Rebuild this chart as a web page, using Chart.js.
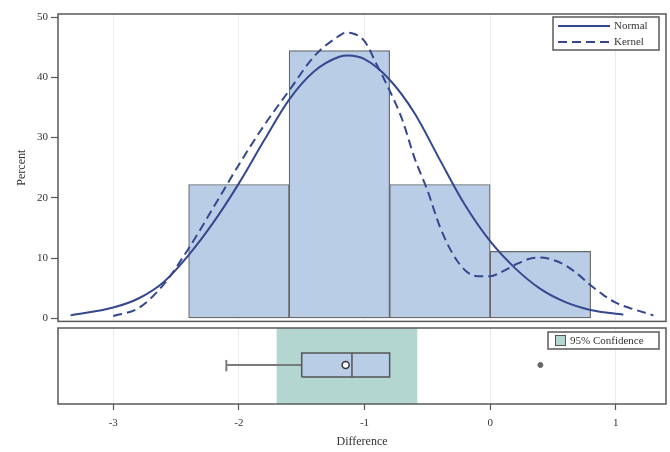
<!DOCTYPE html>
<html>
<head>
<meta charset="utf-8">
<script src="https://cdn.jsdelivr.net/npm/chart.js@4.4.0/dist/chart.umd.min.js"></script>
<style>
body { margin: 0; background: #fff; }
#wrap { position: relative; width: 670px; height: 452px; }
canvas { position: absolute; left: 0; }
</style>
</head>
<body>
<div id="wrap">
  <canvas id="box" width="670" height="127" style="top:325px"></canvas>
  <canvas id="hist" width="670" height="331" style="top:0"></canvas>
</div>
<script>
// histogram bins (centres) and percent per bin
var binCenters = [-2.0, -1.2, -0.4, 0.4];
var binPercent = [22.22, 44.44, 22.22, 11.11];

// fitted normal curve
var normalX = [-3.34, -3.0, -2.8, -2.6, -2.4, -2.2, -2.0, -1.8, -1.6, -1.4, -1.2, -1.13, -1.0, -0.8, -0.6, -0.4, -0.2, 0.0, 0.2, 0.4, 0.6, 0.8, 1.06];
var normalY = [0.5, 1.8, 3.3, 6.0, 10.5, 16.0, 22.4, 29.5, 36.3, 41.0, 43.4, 43.6, 43.0, 39.6, 34.0, 26.3, 18.8, 12.8, 8.3, 4.9, 2.7, 1.4, 0.6];

// kernel density curve
var kernelX = [-3.0, -2.8, -2.6, -2.4, -2.2, -2.0, -1.8, -1.6, -1.4, -1.2, -1.15, -1.1, -1.0, -0.9, -0.8, -0.7, -0.6, -0.5, -0.4, -0.3, -0.2, -0.1, 0.0, 0.1, 0.2, 0.3, 0.4, 0.5, 0.6, 0.7, 0.8, 0.9, 1.0, 1.1, 1.3];
var kernelY = [0.4, 1.7, 5.6, 11.6, 18.5, 25.5, 32.0, 37.8, 43.5, 46.9, 47.4, 47.3, 46.0, 42.0, 37.8, 33.0, 26.5, 21.3, 15.2, 10.8, 8.0, 7.0, 7.0, 7.8, 8.9, 9.8, 10.1, 9.7, 8.8, 7.3, 5.5, 3.9, 2.6, 1.8, 0.5];

var xTicks = [-3, -2, -1, 0, 1];
var yTicks = [0, 10, 20, 30, 40, 50];

// box plot: lower whisker, Q1, median, Q3
var boxValues = [-2.1, -1.5, -1.1, -0.8];
var meanValue = [-1.15];
var outliers = [0.4];
var confLimits = [-1.7, -0.58];

var curveColor = '#35488f';
var barFill = '#b9cde6';
var bandFill = '#b4d6d1';
var textColor = '#333';
var serif = "'Liberation Serif', 'Times New Roman', serif";

Chart.defaults.font.family = serif;
Chart.defaults.color = textColor;

function pts(xs, ys) {
    return xs.map(function(x, i) { return { x: x, y: ys[i] }; });
}
function fixTicks(list) {
    return function(scale) { scale.ticks = list.map(function(v) { return { value: v }; }); };
}

var framePlugin = {
    id: 'frame',
    afterDraw: function(chart) {
        var a = chart.chartArea, ctx = chart.ctx;
        ctx.save();
        ctx.strokeStyle = '#5a5a5a';
        ctx.lineWidth = 1.5;
        ctx.strokeRect(a.left, a.top, a.right - a.left, a.bottom - a.top);
        ctx.restore();
    }
};

var curveLegend = {
    id: 'curveLegend',
    afterDraw: function(chart) {
        var ctx = chart.ctx;
        ctx.save();
        ctx.fillStyle = '#fff';
        ctx.fillRect(553, 17, 106, 33);
        ctx.strokeStyle = '#5a5a5a';
        ctx.lineWidth = 1.5;
        ctx.strokeRect(553, 17, 106, 33);
        ctx.font = '11px ' + serif;
        ctx.textBaseline = 'middle';
        var row = 0;
        chart.data.datasets.forEach(function(ds) {
            if (ds.type !== 'line') return;
            var y = 26 + row * 16;
            ctx.strokeStyle = ds.borderColor;
            ctx.lineWidth = 2;
            ctx.setLineDash(ds.borderDash || []);
            ctx.beginPath();
            ctx.moveTo(558, y);
            ctx.lineTo(610, y);
            ctx.stroke();
            ctx.setLineDash([]);
            ctx.fillStyle = textColor;
            ctx.fillText(ds.label, 614, y);
            row++;
        });
        ctx.restore();
    }
};

new Chart(document.getElementById('hist'), {
    type: 'bar',
    data: {
        datasets: [{
            type: 'line',
            label: 'Normal',
            data: pts(normalX, normalY),
            borderColor: curveColor,
            borderWidth: 2,
            pointRadius: 0,
            cubicInterpolationMode: 'monotone',
            order: 1
        }, {
            type: 'line',
            label: 'Kernel',
            data: pts(kernelX, kernelY),
            borderColor: curveColor,
            borderWidth: 2,
            borderDash: [9, 5],
            pointRadius: 0,
            cubicInterpolationMode: 'monotone',
            order: 1
        }, {
            type: 'bar',
            label: 'Percent',
            data: pts(binCenters, binPercent),
            backgroundColor: barFill,
            borderColor: '#666',
            borderWidth: 1.2,
            borderSkipped: false,
            barPercentage: 1,
            categoryPercentage: 1,
            order: 2
        }]
    },
    options: {
        responsive: false,
        animation: false,
        layout: { autoPadding: false, padding: { top: 14, right: 4, left: 0, bottom: 0 } },
        plugins: { legend: { display: false }, tooltip: { enabled: false } },
        scales: {
            x: {
                type: 'linear',
                min: -3.44,
                max: 1.40,
                offset: false,
                afterBuildTicks: fixTicks(xTicks),
                ticks: { display: false },
                grid: { color: '#ebebeb', drawTicks: false, offset: false },
                border: { display: false },
                afterFit: function(s) { s.height = 4; }
            },
            y: {
                min: -0.5,
                max: 50.5,
                afterBuildTicks: fixTicks(yTicks),
                ticks: { font: { size: 11 }, color: textColor, padding: 3 },
                grid: { drawOnChartArea: false, tickLength: 7, tickColor: '#555', tickWidth: 1.2 },
                border: { display: false },
                title: { display: true, text: 'Percent', font: { size: 12 }, color: textColor, padding: { top: 15, bottom: 0 } },
                afterFit: function(s) { s.width = 58; }
            }
        }
    },
    plugins: [framePlugin, curveLegend]
});

// vertical placement of the box inside the lower panel (0..1)
var boxLo = 0.355, boxHi = 0.671, boxMid = 0.513, capLo = 0.43, capHi = 0.58;

var boxLegend = {
    id: 'boxLegend',
    afterDraw: function(chart) {
        var ctx = chart.ctx;
        ctx.save();
        ctx.fillStyle = '#fff';
        ctx.fillRect(548, 7, 111, 17);
        ctx.strokeStyle = '#5a5a5a';
        ctx.lineWidth = 1.5;
        ctx.strokeRect(548, 7, 111, 17);
        ctx.fillStyle = bandFill;
        ctx.fillRect(555, 10, 10, 10);
        ctx.lineWidth = 1;
        ctx.strokeStyle = '#555';
        ctx.strokeRect(555.5, 10.5, 10, 10);
        ctx.font = '11px ' + serif;
        ctx.textBaseline = 'middle';
        ctx.fillStyle = textColor;
        ctx.fillText(chart.data.datasets[0].label, 570, 16);
        ctx.restore();
    }
};

var q1 = boxValues[1], med = boxValues[2], q3 = boxValues[3], wLo = boxValues[0];

new Chart(document.getElementById('box'), {
    type: 'line',
    data: {
        datasets: [{
            label: '95% Confidence',
            data: [{ x: confLimits[0], y: 0 }, { x: confLimits[0], y: 1 }, { x: confLimits[1], y: 1 }, { x: confLimits[1], y: 0 }],
            fill: 'shape',
            backgroundColor: bandFill,
            borderWidth: 0,
            pointRadius: 0,
            order: 5
        }, {
            label: 'whisker',
            data: [{ x: wLo, y: boxMid }, { x: q1, y: boxMid }],
            borderColor: '#7a7a7a',
            borderWidth: 2,
            pointRadius: 0,
            order: 4
        }, {
            label: 'cap',
            data: [{ x: wLo, y: capLo }, { x: wLo, y: capHi }],
            borderColor: '#7a7a7a',
            borderWidth: 2,
            pointRadius: 0,
            order: 4
        }, {
            label: 'box',
            data: [{ x: q1, y: boxLo }, { x: q1, y: boxHi }, { x: q3, y: boxHi }, { x: q3, y: boxLo }, { x: q1, y: boxLo }],
            fill: 'shape',
            backgroundColor: barFill,
            borderColor: '#555',
            borderWidth: 1.5,
            pointRadius: 0,
            order: 3
        }, {
            label: 'median',
            data: [{ x: med, y: boxLo }, { x: med, y: boxHi }],
            borderColor: '#555',
            borderWidth: 1.5,
            pointRadius: 0,
            order: 2
        }, {
            label: 'mean',
            data: meanValue.map(function(v) { return { x: v, y: boxMid }; }),
            showLine: false,
            pointStyle: 'circle',
            pointRadius: 3.5,
            pointBackgroundColor: '#fff',
            pointBorderColor: '#333',
            pointBorderWidth: 1.5,
            order: 1
        }, {
            label: 'outlier',
            data: outliers.map(function(v) { return { x: v, y: boxMid }; }),
            showLine: false,
            pointStyle: 'circle',
            pointRadius: 2.5,
            pointBackgroundColor: '#666',
            pointBorderColor: '#666',
            pointBorderWidth: 1,
            order: 1
        }]
    },
    options: {
        responsive: false,
        animation: false,
        layout: { autoPadding: false, padding: { top: 3, right: 4, left: 58, bottom: 0 } },
        plugins: { legend: { display: false }, tooltip: { enabled: false } },
        scales: {
            x: {
                type: 'linear',
                min: -3.44,
                max: 1.40,
                afterBuildTicks: fixTicks(xTicks),
                ticks: { font: { size: 11 }, color: textColor, padding: 7 },
                grid: { color: '#ebebeb', tickColor: '#555', tickLength: 6, tickWidth: 1.2 },
                border: { display: false },
                title: { display: true, text: 'Difference', font: { size: 12 }, color: textColor, padding: { top: 0, bottom: 3 } },
                afterFit: function(s) { s.height = 48; }
            },
            y: { display: false, min: 0, max: 1 }
        }
    },
    plugins: [framePlugin, boxLegend]
});
</script>
</body>
</html>
